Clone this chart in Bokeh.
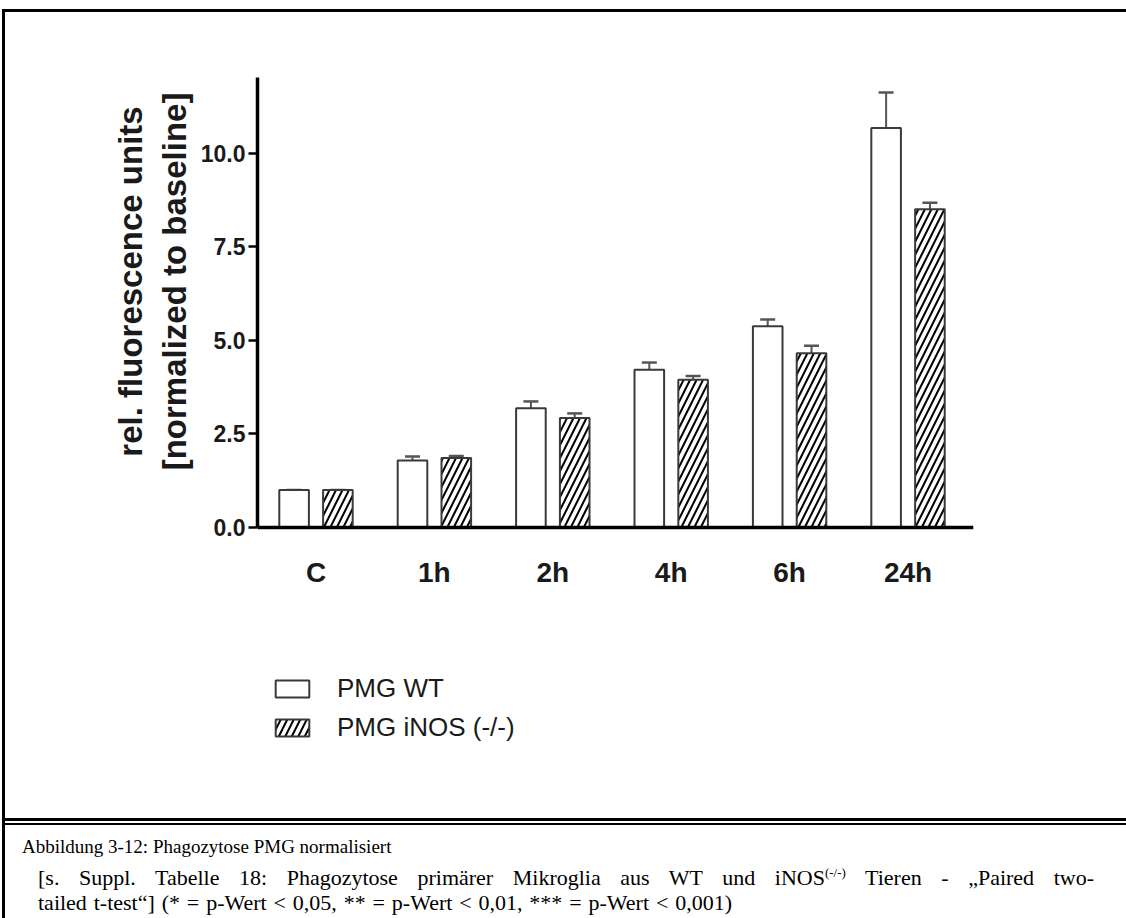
import numpy as np
from bokeh.plotting import figure
from bokeh.models import (ColumnDataSource, Range1d, FixedTicker, Whisker, TeeHead,
                          Legend, LegendItem, PrintfTickFormatter, Div, Title)
from bokeh.layouts import column
from bokeh.embed import file_html
from bokeh.resources import INLINE

# ---------------- data ----------------
categories = ["C", "1h", "2h", "4h", "6h", "24h"]
wt_mean = [1.0, 1.79, 3.19, 4.22, 5.38, 10.68]
wt_sem = [0.0, 0.11, 0.18, 0.19, 0.18, 0.95]
inos_mean = [1.0, 1.86, 2.93, 3.95, 4.66, 8.51]
inos_sem = [0.0, 0.05, 0.12, 0.10, 0.20, 0.17]
series_names = ["PMG WT", "PMG iNOS (-/-)"]
y_ticks = [0.0, 2.5, 5.0, 7.5, 10.0]
y_top = 12.03
y_label_lines = ["rel. fluorescence units", "[normalized to baseline]"]
caption_title = "Abbildung 3-12: Phagozytose PMG normalisiert"
caption_l2a = "[s. Suppl. Tabelle 18: Phagozytose primärer Mikroglia aus WT und iNOS"
caption_l2sup = "(-/-)"
caption_l2b = "Tieren - \u201ePaired two-"
caption_l3 = "tailed t-test\u201c] (* = p-Wert &lt; 0,05, ** = p-Wert &lt; 0,01, *** = p-Wert &lt; 0,001)"

# ---------------- layout constants (canvas px of the page) ----------------
OX, OY = 5, 12            # content offset inside the outer box border
W = 1126 - OX
HA = 816 - OY
AX_L, AX_R, AX_T, AX_B = 257, 973, 77, 527   # axis lines
FRAME_B = 750                                 # frame extends below the x axis (legend lives there)
LABEL_CENTER = 281                            # vertical centre of the y-axis title
LABEL_PX = 33
# approximate rendered lengths (Liberation Sans Bold em-widths) to centre the title lines
label_em = [10.615, 11.447]
label_standoff = [0, 10]

px_per_unit = (AX_B - AX_T) / y_top
y_min = -(FRAME_B - AX_B) / px_per_unit

pos = np.arange(len(categories)) + 1.0
off = 0.185
bw = 0.25

src_wt = ColumnDataSource(dict(x=pos - off, top=wt_mean,
                               upper=np.array(wt_mean) + np.array(wt_sem), lower=wt_mean))
src_in = ColumnDataSource(dict(x=pos + off, top=inos_mean,
                               upper=np.array(inos_mean) + np.array(inos_sem), lower=inos_mean))

p = figure(width=W, height=HA, output_backend="svg", toolbar_location=None,
           x_range=Range1d(0.506, 6.553), y_range=Range1d(y_min, y_top),
           min_border_left=AX_L - OX, min_border_right=W - (AX_R - OX),
           min_border_top=AX_T - OY, min_border_bottom=HA - (FRAME_B - OY))
p.outline_line_color = None
p.grid.visible = False
p.background_fill_color = "white"
p.border_fill_color = "white"

font = "Liberation Sans"
r_wt = p.vbar(x="x", top="top", bottom=0, width=bw, source=src_wt,
              fill_color="white", line_color="#3a3a3a", line_width=2)
r_in = p.vbar(x="x", top="top", bottom=0, width=bw, source=src_in,
              fill_color="white", line_color="#3a3a3a", line_width=2,
              hatch_pattern="/", hatch_color="black", hatch_weight=2, hatch_scale=13)

for s in (src_wt, src_in):
    wk = Whisker(source=s, base="x", upper="upper", lower="lower", dimension="height",
                 upper_head=TeeHead(size=15, line_color="#555555", line_width=2.5),
                 lower_head=None, line_color="#555555", line_width=2)
    p.add_layout(wk)

# axes
yax = p.yaxis[0]
yax.bounds = (0, y_top)
yax.ticker = FixedTicker(ticks=y_ticks)
yax.formatter = PrintfTickFormatter(format="%.1f")
yax.axis_line_width = 3.5
yax.axis_line_color = "black"
yax.major_tick_line_width = 2.5
yax.major_tick_line_color = "black"
yax.major_tick_out = 9
yax.major_tick_in = 0
yax.minor_tick_line_color = None
yax.major_label_text_font = font
yax.major_label_text_font_style = "bold"
yax.major_label_text_font_size = "23px"
yax.major_label_text_color = "#1a1a1a"
yax.major_label_standoff = 3

# y-axis title: two lines, top-aligned so that they are centred on the value axis
for i in reversed(range(len(y_label_lines))):
    length = label_em[i] * LABEL_PX
    t = Title(text=y_label_lines[i], align="right",
              offset=(LABEL_CENTER - length / 2.0) - AX_T, standoff=label_standoff[i],
              text_font=font, text_font_style="bold", text_font_size=f"{LABEL_PX}px",
              text_color="#1a1a1a")
    p.add_layout(t, "left")

xax = p.xaxis[0]
xax.fixed_location = 0
xax.ticker = FixedTicker(ticks=list(pos))
xax.major_label_overrides = {int(v): c for v, c in zip(pos, categories)}
xax.axis_line_width = 3.5
xax.axis_line_color = "black"
xax.major_tick_line_color = None
xax.minor_tick_line_color = None
xax.major_label_text_font = font
xax.major_label_text_font_style = "bold"
xax.major_label_text_font_size = "28px"
xax.major_label_text_color = "#1a1a1a"
xax.major_label_standoff = 23

legend = Legend(items=[LegendItem(label=series_names[0], renderers=[r_wt]),
                       LegendItem(label=series_names[1], renderers=[r_in])],
                location=(271 - AX_L, 7), orientation="vertical",
                glyph_width=42, glyph_height=21, label_height=21, spacing=8,
                label_standoff=24, padding=0, margin=0,
                border_line_color=None, background_fill_alpha=0,
                label_text_font=font, label_text_font_size="26px",
                label_text_color="#1a1a1a")
p.add_layout(legend)

# ---------------- caption (HTML) ----------------
HB = 918 - 816
cap_html = f"""
<div style="position:relative;width:{W}px;height:{HB}px;font-family:'Liberation Serif',serif;color:#000;overflow:visible;">
  <div style="position:absolute;left:0;top:2px;width:{W + 10}px;border-top:3.5px solid #000;"></div>
  <div style="position:absolute;left:0;top:7px;width:{W + 10}px;border-top:2px solid #000;"></div>
  <div style="position:absolute;left:{22 - OX}px;top:{847 - 816 - 11}px;width:368px;font-size:19px;line-height:22px;white-space:nowrap;text-align:justify;text-align-last:justify;">{caption_title}</div>
  <div style="position:absolute;left:{38 - OX}px;top:{878 - 816 - 11}px;width:1056px;font-size:22px;line-height:22px;white-space:nowrap;text-align:justify;text-align-last:justify;">{caption_l2a}<span style="font-size:13px;vertical-align:8px;line-height:10px;">{caption_l2sup}</span> {caption_l2b}</div>
  <div style="position:absolute;left:{38 - OX}px;top:{903 - 816 - 11}px;width:694px;font-size:22px;line-height:22px;white-space:nowrap;text-align:justify;text-align-last:justify;">{caption_l3}</div>
</div>
"""
cap = Div(text=cap_html, width=W, height=HB, margin=(0, 0, 0, 0))

layout = column(p, cap, spacing=0,
                styles={"border-top": "3px solid #000", "border-left": "3px solid #000",
                        "margin-left": "2px", "margin-top": "9px"})
open("out.html", "w").write(file_html(layout, INLINE))
